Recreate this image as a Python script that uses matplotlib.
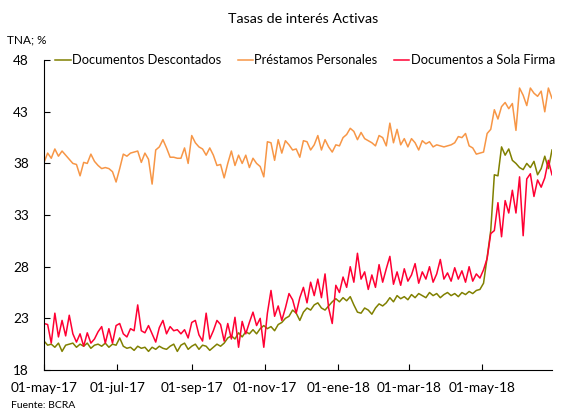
import pandas as pd
import numpy as np
import matplotlib
matplotlib.use('Agg')
import matplotlib.pyplot as plt

plt.rcParams['font.family'] = ['Lato', 'DejaVu Sans']

# one reading every 3 days from 01-may-17
fechas = pd.date_range('2017-05-01', periods=142, freq='3D')

descontados = [20.8, 20.4, 20.5, 20.2, 20.6, 19.8, 20.4, 20.5, 20.6, 20.2,
               20.5, 20.3, 20.6, 20.1, 20.4, 20.5, 20.3, 20.6, 20.2, 20.5,
               20.4, 21.1, 20.3, 20.1, 20.2, 19.9, 20.3, 20.1, 20.2, 19.8,
               20.2, 20.0, 20.3, 20.1, 20.0, 20.3, 20.5, 19.8, 20.4, 20.6,
               20.0, 20.3, 20.5, 20.0, 20.4, 20.3, 19.9, 20.2, 20.5, 20.3,
               20.6, 21.1, 21.3, 21.0, 21.6, 21.2, 21.7, 21.5, 21.9, 21.5,
               22.0, 22.3, 22.0, 22.2, 21.8, 22.4, 22.6, 23.0, 23.2, 23.8,
               23.5, 22.8, 23.6, 24.0, 23.8, 24.3, 24.5, 24.0, 23.8, 24.2,
               24.6, 24.9, 24.6, 25.0, 24.7, 25.1, 24.3, 23.6, 23.5, 24.0,
               23.8, 23.4, 24.0, 24.4, 24.2, 24.5, 25.0, 24.6, 25.2, 24.9,
               25.1, 24.8, 25.3, 25.0, 25.4, 25.2, 25.0, 25.5, 25.2, 25.4,
               25.0, 25.3, 25.5, 25.2, 25.4, 25.1, 25.5, 25.3, 25.6, 25.4,
               25.7, 25.8, 26.4, 28.9, 31.5, 36.9, 36.8, 39.6, 38.8, 39.4,
               38.3, 38.0, 37.6, 37.4, 38.0, 37.6, 38.2, 36.9, 37.5, 38.7,
               37.5, 39.3]

personales = [38.1, 39.0, 38.5, 39.4, 38.7, 39.2, 38.8, 38.4, 38.0, 37.9,
              36.8, 38.1, 38.0, 38.9, 38.2, 37.8, 37.5, 37.6, 37.5, 37.2,
              36.2, 37.5, 38.9, 38.7, 39.0, 39.1, 39.2, 38.1, 39.0, 38.4,
              36.0, 39.3, 39.6, 40.3, 39.5, 38.6, 38.6, 38.5, 38.5, 39.5,
              38.0, 40.7, 40.0, 39.6, 39.4, 38.8, 39.5, 38.8, 37.8, 37.9,
              36.6, 38.0, 39.2, 37.8, 38.8, 38.0, 38.8, 37.6, 38.5, 38.0,
              37.7, 36.7, 40.1, 40.0, 38.3, 40.3, 39.0, 40.2, 39.8, 39.3,
              39.4, 38.6, 40.2, 40.1, 39.3, 39.8, 40.7, 39.3, 40.3, 39.6,
              39.1, 39.8, 39.7, 40.5, 40.8, 41.4, 41.1, 40.3, 41.0, 40.4,
              40.2, 40.0, 39.7, 40.7, 40.5, 39.7, 41.9, 40.0, 41.3, 39.8,
              40.4, 39.6, 40.4, 40.0, 39.3, 40.2, 39.9, 40.1, 39.6, 39.8,
              39.7, 39.6, 39.7, 39.8, 40.0, 40.6, 40.5, 40.9, 39.7, 39.5,
              38.9, 39.0, 39.1, 40.9, 41.3, 43.2, 42.3, 43.5, 43.9, 43.3,
              43.8, 41.2, 45.3, 44.6, 43.6, 45.3, 44.8, 44.5, 45.0, 43.0,
              45.3, 44.3]

sola_firma = [22.5, 22.4, 20.6, 23.5, 21.2, 22.8, 21.3, 23.3, 21.5, 20.7,
              21.5, 20.3, 21.6, 20.6, 21.0, 21.7, 22.2, 20.6, 22.0, 20.6,
              22.3, 22.5, 21.5, 21.2, 22.0, 21.8, 24.3, 21.8, 21.6, 22.3,
              21.5, 20.7, 22.1, 22.8, 21.5, 22.2, 21.8, 21.9, 21.5, 21.9,
              21.1, 22.6, 22.8, 21.4, 20.8, 23.5, 21.0, 21.8, 22.8, 22.4,
              20.8, 22.5, 21.0, 23.1, 20.2, 22.7, 21.5, 22.6, 23.6, 22.3,
              23.0, 20.2, 23.5, 25.7, 23.2, 24.2, 22.8, 24.0, 25.4, 24.8,
              23.5, 25.0, 26.0, 24.5, 26.5, 25.2, 26.8, 25.0, 27.3, 24.0,
              22.5, 26.2, 25.5, 27.0, 26.0, 28.0, 26.5, 29.3, 26.8, 27.5,
              25.8, 27.2, 26.0, 28.2, 26.5, 27.8, 29.0, 26.3, 27.5, 26.2,
              27.8, 26.6, 27.2, 28.3, 26.4, 27.5, 26.8, 28.0, 26.5, 27.3,
              28.7, 26.8, 27.4, 26.6, 27.9, 26.8, 27.6, 26.5, 28.0, 26.6,
              27.3, 26.9, 27.7, 28.8, 31.2, 31.5, 34.2, 30.9, 34.4, 33.2,
              35.4, 33.2, 36.7, 31.0, 36.5, 37.0, 34.8, 36.4, 35.7, 36.6,
              38.3, 36.9]

tick_fechas = pd.to_datetime(['2017-05-01', '2017-07-01', '2017-09-01', '2017-11-01',
                              '2018-01-01', '2018-03-01', '2018-05-01'])
tick_labels = ['01-may-17', '01-jul-17', '01-sep-17', '01-nov-17',
               '01-ene-18', '01-mar-18', '01-may-18']

fig = plt.figure(figsize=(5.72, 4.12), dpi=100)
ax = fig.add_axes([0.077, 0.102, 0.888, 0.752])

ax.plot(fechas, descontados, color='#808000', lw=1.1, label='Documentos Descontados')
ax.plot(fechas, personales, color='#f79646', lw=1.1, label='Préstamos Personales')
ax.plot(fechas, sola_firma, color='#ff0033', lw=1.1, label='Documentos a Sola Firma')

ax.set_ylim(18, 48)
ax.set_yticks([18, 23, 28, 33, 38, 43, 48])
ax.set_xlim(pd.Timestamp('2017-05-01'), pd.Timestamp('2018-06-28'))
ax.set_xticks(tick_fechas)
ax.set_xticklabels(tick_labels)
ax.tick_params(direction='in', length=4, labelsize=9.8, color='black')
ax.tick_params(axis='x', pad=9)
ax.tick_params(axis='y', pad=11)
for s in ['top', 'right']:
    ax.spines[s].set_visible(False)

fig.legend(loc='center left', bbox_to_anchor=(0.097, 0.854), ncol=3, frameon=False,
           fontsize=9.3, handlelength=1.2, handletextpad=0.1, columnspacing=1.25,
           borderaxespad=0, borderpad=0)

fig.text(0.53, 0.955, 'Tasas de interés Activas', ha='center', va='center', fontsize=10.3)
fig.text(0.012, 0.902, 'TNA; %', ha='left', va='center', fontsize=8.5)
fig.text(0.02, 0.015, 'Fuente: BCRA', ha='left', va='center', fontsize=7.5)

fig.savefig('out.png', dpi=100)
